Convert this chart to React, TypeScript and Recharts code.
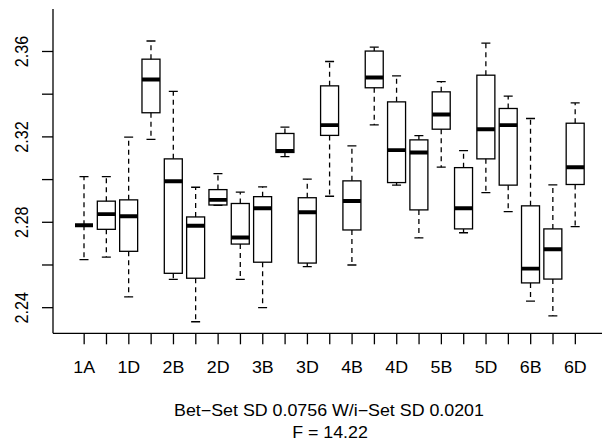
import React from 'react';
import { BarChart, Bar, XAxis, YAxis } from 'recharts';

// group labels; every other one is printed on the axis
const categories = [
  '1A', '1B', '1D', '2A', '2B', '2C', '2D', '3A', '3B', '3C', '3D', '4A',
  '4B', '4C', '4D', '5A', '5B', '5C', '5D', '6A', '6B', '6C', '6D',
];

const whiskerLow = [
  2.2625, 2.2637, 2.2451, 2.3188, 2.2533, 2.2334, 2.2879, 2.2533, 2.24, 2.3108, 2.2592, 2.2922,
  2.26, 2.3256, 2.2974, 2.2727, 2.3058, 2.2751, 2.2939, 2.285, 2.2431, 2.2362, 2.278,
];
const lowerQuartile = [
  2.2786, 2.2767, 2.2664, 2.3313, 2.2561, 2.2538, 2.2881, 2.2698, 2.2613, 2.3127, 2.2609, 2.3207,
  2.2764, 2.343, 2.2986, 2.2858, 2.3236, 2.2769, 2.3097, 2.2974, 2.2516, 2.2534, 2.2977,
];
const medians = [
  2.2786, 2.2838, 2.2828, 2.3469, 2.2992, 2.2784, 2.2905, 2.2729, 2.2866, 2.3134, 2.2847, 2.3255,
  2.29, 2.3478, 2.3138, 2.3127, 2.3305, 2.2866, 2.3236, 2.3255, 2.2583, 2.2674, 2.3058,
];
const upperQuartile = [
  2.2786, 2.2899, 2.2905, 2.3564, 2.3097, 2.2825, 2.2953, 2.2888, 2.292, 2.3216, 2.2915, 2.3439,
  2.2994, 2.3602, 2.3364, 2.3186, 2.3411, 2.3056, 2.3489, 2.3333, 2.2877, 2.2769, 2.3264,
];
const whiskerHigh = [
  2.3014, 2.3014, 2.3199, 2.3649, 2.3413, 2.2964, 2.3028, 2.2941, 2.2966, 2.3246, 2.3002, 2.3553,
  2.3158, 2.362, 2.3486, 2.3206, 2.3459, 2.3136, 2.3639, 2.3391, 2.3286, 2.2975, 2.3359,
];

const yTicks = [2.24, 2.26, 2.28, 2.3, 2.32, 2.34, 2.36];
const subtitle = ['Bet\u2212Set SD 0.0756 W/i\u2212Set SD 0.0201', 'F = 14.22'];

const rows = categories.map((cat, i) => ({
  cat,
  range: [whiskerLow[i], whiskerHigh[i]],
  lo: whiskerLow[i],
  q1: lowerQuartile[i],
  med: medians[i],
  q3: upperQuartile[i],
  hi: whiskerHigh[i],
}));

const FONT = '"Liberation Sans", Arial, Helvetica, sans-serif';
const FS = 16.2;
// glyphs come out a little wider than tall
const STRETCH = 1.1;
const LW = 1.3;

// whole box-and-whisker glyph, positioned inside the range bar Recharts lays out
const BoxShape = (props: any) => {
  const { x, y, width, height, payload } = props;
  const top = Math.min(y, y + height);
  const h = Math.abs(height);
  const { lo, hi, q1, med, q3 } = payload;
  const py = (v: number) => top + ((hi - v) / (hi - lo)) * h;
  const cx = x + width / 2;
  const cap = width / 4;
  return (
    <g stroke="#000" strokeWidth={LW} fill="none">
      <line x1={cx} x2={cx} y1={py(q3)} y2={py(hi)} strokeDasharray="5 4" />
      <line x1={cx} x2={cx} y1={py(q1)} y2={py(lo)} strokeDasharray="5 4" />
      <line x1={cx - cap} x2={cx + cap} y1={py(hi)} y2={py(hi)} />
      <line x1={cx - cap} x2={cx + cap} y1={py(lo)} y2={py(lo)} />
      <rect x={x} y={py(q3)} width={width} height={py(q1) - py(q3)} />
      <line x1={x} x2={x + width} y1={py(med)} y2={py(med)} strokeWidth={3.9} />
    </g>
  );
};

const Txt = ({ x, y, rotate = 0, children }: any) => (
  <text
    transform={`translate(${x} ${y}) scale(${STRETCH} 1) rotate(${rotate})`}
    textAnchor="middle"
    fontSize={FS}
    fontFamily={FONT}
    fill="#000"
  >
    {children}
  </text>
);

const XTick = (props: any) => {
  const { x, payload, index } = props;
  if (index % 2 !== 0) return <g />;
  return <Txt x={x} y={373.3}>{payload.value}</Txt>;
};

const YTick = (props: any) => {
  const { y, payload, index } = props;
  if (index % 2 !== 0) return <g />;
  return <Txt x={27.5} y={y} rotate={-90}>{payload.value.toFixed(2)}</Txt>;
};

const axisStroke = { stroke: '#000', strokeWidth: LW };

export default function App() {
  return (
    <div style={{ position: 'absolute', left: 0, top: 0, width: 602, height: 441, overflow: 'hidden', background: '#fff' }}>
      <BarChart
        width={620}
        height={441}
        data={rows}
        margin={{ top: 9, right: 14.5, bottom: 47.7, left: 0 }}
        barSize={18}
      >
        <XAxis
          dataKey="cat"
          interval={0}
          tickSize={11}
          padding={{ left: 20, right: 19 }}
          height={60}
          axisLine={axisStroke}
          tickLine={axisStroke}
          tick={<XTick />}
        />
        <XAxis xAxisId="top" dataKey="cat" orientation="top" height={0} tick={false} tickLine={false} axisLine={axisStroke} />
        <YAxis
          type="number"
          domain={[2.228, 2.3799]}
          ticks={yTicks}
          interval={0}
          allowDataOverflow
          tickSize={11}
          width={53}
          axisLine={axisStroke}
          tickLine={axisStroke}
          tick={<YTick />}
        />
        <YAxis yAxisId="right" orientation="right" type="number" domain={[2.228, 2.3799]} width={0} tick={false} tickLine={false} axisLine={axisStroke} />
        <Bar dataKey="range" shape={<BoxShape />} isAnimationActive={false} />
        <Txt x={329} y={416}>{subtitle[0]}</Txt>
        <Txt x={330} y={438.4}>{subtitle[1]}</Txt>
      </BarChart>
    </div>
  );
}
